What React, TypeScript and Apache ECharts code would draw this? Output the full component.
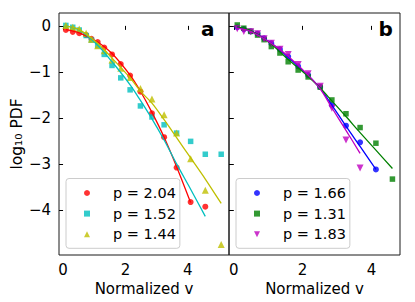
import React, { useEffect, useRef } from "react";
import * as echarts from "echarts";

// ---------- data ----------
const vA = [0.09, 0.31, 0.52, 0.74, 0.91, 1.11, 1.32, 1.57, 1.85, 2.15, 2.48, 2.85, 3.24, 3.64, 4.09, 4.56, 5.07];
const redPts = [-0.09, -0.13, -0.16, -0.2, -0.28, -0.35, -0.47, -0.62, -0.83, -1.08, -1.43, -1.9, -2.42, -3.08, -3.83, -3.93];
const cyanPts = [0.01, -0.03, -0.09, -0.21, -0.31, -0.43, -0.62, -0.86, -1.13, -1.39, -1.74, -1.98, -2.15, -2.33, -2.51, -2.79, -2.79];
const olivePts = [0.01, -0.03, -0.07, -0.16, -0.29, -0.43, -0.54, -0.74, -0.92, -1.12, -1.36, -1.59, -1.93, -2.33, -2.89, -3.57, -4.75];

const fitVA = [0.09, 0.52, 1.11, 1.57, 2.15, 2.48, 2.85, 3.24, 3.64, 4.09, 4.56, 5.07];
const redFit = [-0.08, -0.15, -0.35, -0.6, -1.07, -1.42, -1.88, -2.42, -3.06, -3.84];
const cyanFit = [0.0, -0.09, -0.42, -0.78, -1.28, -1.62, -2.02, -2.48, -3.0, -3.55, -4.14];
const oliveFit = [0.0, -0.08, -0.38, -0.7, -1.13, -1.42, -1.68, -2.04, -2.43, -2.87, -3.33, -3.86];

const vB = [0.1, 0.29, 0.49, 0.69, 0.88, 1.09, 1.34, 1.58, 1.87, 2.16, 2.51, 2.85, 3.26, 3.67, 4.13, 4.61];
const bluePts = [-0.03, -0.07, -0.12, -0.17, -0.27, -0.38, -0.51, -0.67, -0.88, -1.07, -1.33, -1.72, -2.17, -2.53, -3.12];
const greenPts = [0.02, -0.05, -0.12, -0.2, -0.3, -0.45, -0.59, -0.78, -0.96, -1.11, -1.33, -1.61, -1.91, -2.21, -2.55, -3.33];
const magentaPts = [-0.06, -0.12, -0.13, -0.17, -0.28, -0.38, -0.51, -0.62, -0.84, -1.04, -1.31, -1.79, -2.48, -3.09];

const fitVB = [0.1, 0.49, 1.09, 1.58, 2.16, 2.51, 2.85, 3.26, 3.67, 4.13, 4.61];
const greenFit = [-0.02, -0.1, -0.4, -0.73, -1.1, -1.35, -1.63, -1.97, -2.32, -2.7, -3.1];
const blueFit = [-0.03, -0.11, -0.38, -0.68, -1.08, -1.36, -1.72, -2.18, -2.62, -3.12];
const magentaFit = [-0.05, -0.12, -0.38, -0.66, -1.07, -1.37, -1.78, -2.27, -2.77];

const legendA = ["p = 2.04", "p = 1.52", "p = 1.44"];
const legendB = ["p = 1.66", "p = 1.31", "p = 1.83"];
const xTicks = [0, 2, 4];
const yTicks = [-4, -3, -2, -1, 0];
const panelLabels = ["a", "b"];

// ---------- styling ----------
const FONT = "DejaVu Sans";
const C = {
  red: "#ff0000",
  cyan: "#00bfbf",
  olive: "#bfbf00",
  blue: "#0000ff",
  green: "#008000",
  magenta: "#bf00bf",
};
const SQ = "path://M0,0H10V10H0Z";
const TRI_UP = "path://M5,0L10,10L0,10Z";
const TRI_DN = "path://M0,0L10,0L5,10Z";

const pairs = (xs: number[], ys: number[]) => ys.map((y, i) => [xs[i], y]);
const minus = (v: number) => String(v).replace("-", "\u2212");

function scatter(name: string, xs: number[], ys: number[], color: string, symbol: string, size: number, idx: number, rotate = 0) {
  return {
    type: "scatter",
    name,
    xAxisIndex: idx,
    yAxisIndex: idx === 0 ? 0 : 2,
    data: pairs(xs, ys),
    symbol,
    symbolSize: size,
    symbolRotate: rotate,
    itemStyle: { color },
    z: 2,
  };
}
function fit(name: string, xs: number[], ys: number[], color: string, idx: number) {
  return {
    type: "line",
    name,
    xAxisIndex: idx,
    yAxisIndex: idx === 0 ? 0 : 2,
    data: pairs(xs, ys),
    showSymbol: false,
    smooth: 0.3,
    lineStyle: { color, width: 1.3 },
    itemStyle: { color },
    z: 3,
  };
}

const xAxisBase = (grid: number, min: number, max: number) => ({
  type: "value",
  gridIndex: grid,
  min,
  max,
  name: "Normalized v",
  nameLocation: "middle",
  nameGap: 25,
  nameTextStyle: { fontFamily: FONT, fontSize: 15, color: "#000" },
  axisLine: { show: false },
  axisTick: { show: true, length: 4, customValues: xTicks, lineStyle: { color: "#000", width: 1 } },
  axisLabel: { show: true, customValues: xTicks, margin: 7, fontFamily: FONT, fontSize: 15, color: "#000" },
  splitLine: { show: false },
});

const yMin = -4.98;
const yMax = 0.28;

const legendBase = (names: string[], icons: string[], left: number) => ({
  data: names.map((n, i) => ({ name: n, icon: icons[i] })),
  orient: "vertical",
  left,
  top: 178.5,
  itemWidth: 6,
  itemHeight: 6,
  itemGap: 0,
  symbolKeepAspect: true,
  padding: [4.2, 4, 3.8, 18],
  borderColor: "#cccccc",
  borderWidth: 1,
  borderRadius: 3,
  backgroundColor: "rgba(255,255,255,0.8)",
  selectedMode: false,
  textStyle: { fontFamily: FONT, fontSize: 14.5, color: "#000", lineHeight: 20.6, padding: [0, 0, 0, 18] },
});

export default function App() {
  const ref = useRef<HTMLDivElement>(null);
  useEffect(() => {
    if (!ref.current) return;
    const chart = echarts.init(ref.current, null, { renderer: "svg" });
    chart.setOption({
      animation: false,
      backgroundColor: "#ffffff",
      grid: [
        { left: 59, top: 13, width: 170, height: 242, show: true, borderColor: "#1a1a1a", borderWidth: 1, backgroundColor: "transparent" },
        { left: 229, top: 13, width: 171, height: 242, show: true, borderColor: "#1a1a1a", borderWidth: 1, backgroundColor: "transparent" },
      ],
      xAxis: [xAxisBase(0, -0.13, 5.32), xAxisBase(1, -0.14, 4.83)],
      yAxis: [
        {
          type: "value",
          gridIndex: 0,
          min: yMin,
          max: yMax,
          position: "left",
          name: "log\u2081\u2080 PDF",
          nameLocation: "middle",
          nameGap: 30,
          nameTextStyle: { fontFamily: FONT, fontSize: 15.5, color: "#000" },
          axisLine: { show: false },
          axisTick: { show: true, length: 4, customValues: yTicks, lineStyle: { color: "#000" } },
          axisLabel: { show: true, customValues: yTicks, margin: 8, fontFamily: FONT, fontSize: 15, color: "#000", formatter: minus },
          splitLine: { show: false },
        },
        {
          type: "value",
          gridIndex: 0,
          min: yMin,
          max: yMax,
          position: "right",
          axisLine: { show: false },
          axisTick: { show: true, length: 2, customValues: yTicks, lineStyle: { color: "#000" } },
          axisLabel: { show: false },
          splitLine: { show: false },
        },
        {
          type: "value",
          gridIndex: 1,
          min: yMin,
          max: yMax,
          position: "left",
          axisLine: { show: false },
          axisTick: { show: true, length: 4, customValues: yTicks, lineStyle: { color: "#000" } },
          axisLabel: { show: false },
          splitLine: { show: false },
        },
      ],
      legend: [
        legendBase(legendA, ["circle", SQ, TRI_UP], 66),
        legendBase(legendB, ["circle", SQ, TRI_DN], 236),
      ],
      graphic: [
        { type: "text", left: 201, top: 19, style: { text: panelLabels[0], font: `bold 20px '${FONT}'`, fill: "#000" } },
        { type: "text", left: 378.5, top: 19, style: { text: panelLabels[1], font: `bold 20px '${FONT}'`, fill: "#000" } },
      ],
      series: [
        scatter(legendA[0], vA, redPts, C.red, "circle", 6, 0),
        scatter(legendA[1], vA, cyanPts, C.cyan, "rect", 5.5, 0),
        scatter(legendA[2], vA, olivePts, C.olive, "triangle", 7, 0),
        fit("fitA1", fitVA, redFit, C.red, 0),
        fit("fitA2", fitVA, cyanFit, C.cyan, 0),
        fit("fitA3", fitVA, oliveFit, C.olive, 0),
        scatter(legendB[0], vB, bluePts, C.blue, "circle", 6, 1),
        scatter(legendB[1], vB, greenPts, C.green, "rect", 5.5, 1),
        scatter(legendB[2], vB, magentaPts, C.magenta, "triangle", 7, 1, 180),
        fit("fitB1", fitVB, blueFit, C.blue, 1),
        fit("fitB2", fitVB, greenFit, C.green, 1),
        fit("fitB3", fitVB, magentaFit, C.magenta, 1),
      ],
    });
    return () => chart.dispose();
  }, []);
  return (
    <div
      ref={ref}
      style={{ position: "fixed", left: 0, top: 0, width: 415, height: 302, background: "#fff" }}
    />
  );
}
